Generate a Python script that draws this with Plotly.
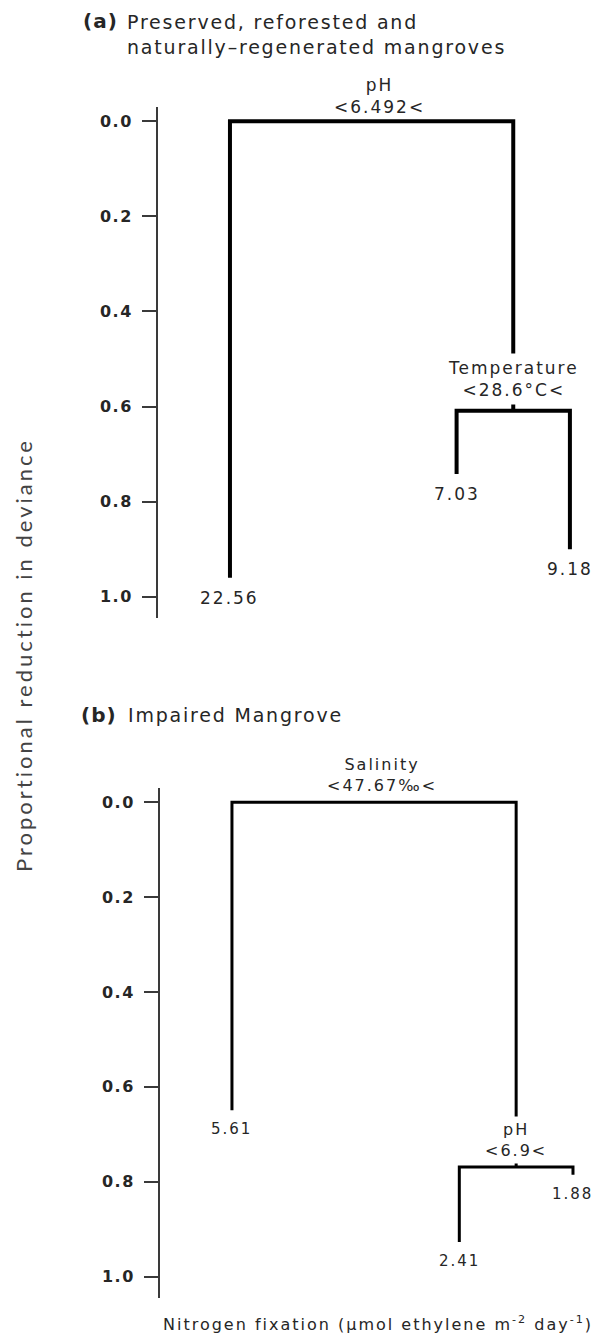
import plotly.graph_objects as go

W, H = 603, 1334

# ---------------- data ----------------
# Panel (a): preserved, reforested and naturally-regenerated mangroves
a_leaf_labels = ["22.56", "7.03", "9.18"]
a_leaf_pos = [0, 2, 3]
a_leaf_dev = [0.96, 0.742, 0.90]
a_split_var = ["pH", "Temperature"]
a_split_thr = ["<6.492<", "<28.6°C<"]
a_split_dev = [0.0, 0.609]

# Panel (b): impaired mangrove
b_leaf_labels = ["5.61", "2.41", "1.88"]
b_leaf_pos = [0, 2, 3]
b_leaf_dev = [0.649, 0.927, 0.785]
b_split_var = ["Salinity", "pH"]
b_split_thr = ["<47.67‰<", "<6.9<"]
b_split_dev = [0.0, 0.769]

y_tick_vals = [0.0, 0.2, 0.4, 0.6, 0.8, 1.0]
y_tick_text = ["0.0", "0.2", "0.4", "0.6", "0.8", "1.0"]

title_a = ["(a)", "Preserved, reforested and", "naturally–regenerated mangroves"]
title_b = ["(b)", "Impaired Mangrove"]
y_title = "Proportional reduction in deviance"
x_title = "Nitrogen fixation (μmol ethylene m<sup>-2</sup> day<sup>-1</sup>)"

FONT = "DejaVu Sans"
TXT = "#262626"


def esc(t):
    return t.replace("<", "&lt;").replace(">", "&gt;")


def sp(t, s):
    return f'<span style="letter-spacing:{s}px">{t}</span>'


def tree_path(leaf_pos, leaf_dev, split_dev):
    n1x = (leaf_pos[1] + leaf_pos[2]) / 2
    xs = [leaf_pos[0], leaf_pos[0], n1x, n1x, None,
          leaf_pos[1], leaf_pos[1], leaf_pos[2], leaf_pos[2]]
    ys = [leaf_dev[0], split_dev[0], split_dev[0], split_dev[1], None,
          leaf_dev[1], split_dev[1], split_dev[1], leaf_dev[2]]
    return xs, ys, n1x


fig = go.Figure()
annotations = []


def add_panel(idx, leaf_labels, leaf_pos, leaf_dev, split_var, split_thr, split_dev,
              lw, leaf_fs, split_fs, root_shift, inner_shift, inner_pad):
    xa = "x" if idx == 1 else "x2"
    ya = "y" if idx == 1 else "y2"
    xs, ys, n1x = tree_path(leaf_pos, leaf_dev, split_dev)
    fig.add_trace(go.Scatter(x=xs, y=ys, mode="lines", xaxis=xa, yaxis=ya,
                             line=dict(color="#000000", width=lw),
                             hoverinfo="skip", showlegend=False))
    # leaf labels
    for lab, px, dv in zip(leaf_labels, leaf_pos, leaf_dev):
        annotations.append(dict(x=px, y=dv, xref=xa, yref=ya, text=sp(lab, 2),
                                showarrow=False, yanchor="top", xanchor="center",
                                yshift=-8, font=dict(family=FONT, size=leaf_fs, color=TXT)))
    # root split label
    root_x = (leaf_pos[0] + n1x) / 2
    annotations.append(dict(x=root_x, y=split_dev[0], xref=xa, yref=ya,
                            text=sp(esc(split_var[0]), 2) + "<br>" + sp(esc(split_thr[0]), 2),
                            showarrow=False, yanchor="bottom", xanchor="center",
                            xshift=8, yshift=root_shift,
                            font=dict(family=FONT, size=split_fs, color=TXT)))
    # inner split label (white box hides part of the branch)
    annotations.append(dict(x=n1x, y=split_dev[1], xref=xa, yref=ya,
                            text=sp(esc(split_var[1]), 2) + "<br>" + sp(esc(split_thr[1]), 2),
                            showarrow=False, yanchor="bottom", xanchor="center",
                            yshift=inner_shift, bgcolor="white", borderpad=inner_pad,
                            font=dict(family=FONT, size=split_fs, color=TXT)))


add_panel(1, a_leaf_labels, a_leaf_pos, a_leaf_dev, a_split_var, a_split_thr, a_split_dev,
          4, 17, 17, 2, 6, 4)
add_panel(2, b_leaf_labels, b_leaf_pos, b_leaf_dev, b_split_var, b_split_thr, b_split_dev,
          3, 15, 16, 5, 3, 3)

# titles
annotations.append(dict(x=81 / W, y=1 - 21 / H, xref="paper", yref="paper",
                        text="<b>" + sp(title_a[0], 1) + "</b>", showarrow=False,
                        xanchor="left", yanchor="middle",
                        font=dict(family=FONT, size=20, color=TXT)))
annotations.append(dict(x=125 / W, y=1 - 9 / H, xref="paper", yref="paper",
                        text=sp(title_a[1], 1.8) + "<br>" + sp(title_a[2], 1.8),
                        showarrow=False, xanchor="left", yanchor="top", align="left",
                        font=dict(family=FONT, size=19, color=TXT)))
annotations.append(dict(x=79 / W, y=1 - 715 / H, xref="paper", yref="paper",
                        text="<b>" + sp(title_b[0], 1) + "</b>", showarrow=False,
                        xanchor="left", yanchor="middle",
                        font=dict(family=FONT, size=20, color=TXT)))
annotations.append(dict(x=126 / W, y=1 - 715 / H, xref="paper", yref="paper",
                        text=sp(title_b[1], 1.8), showarrow=False,
                        xanchor="left", yanchor="middle",
                        font=dict(family=FONT, size=19, color=TXT)))
annotations.append(dict(x=23 / W, y=1 - 655 / H, xref="paper", yref="paper",
                        text=sp(y_title, 3), showarrow=False, textangle=-90,
                        xanchor="center", yanchor="middle",
                        font=dict(family="Lato", size=22, color="#444444")))
annotations.append(dict(x=378 / W, y=1 - 1323 / H, xref="paper", yref="paper",
                        text=sp(x_title, 2), showarrow=False,
                        xanchor="center", yanchor="middle",
                        font=dict(family=FONT, size=16, color=TXT)))

yaxis_common = dict(
    range=[1.044, -0.03], tickmode="array", tickvals=y_tick_vals,
    ticktext=[sp(t, 1.5) for t in y_tick_text],
    showline=True, linecolor="#3a3a3a", linewidth=2,
    ticks="outside", ticklen=14, tickwidth=2, tickcolor="#3a3a3a",
    showgrid=False, zeroline=False, ticklabelstandoff=6,
    tickfont=dict(family=FONT, size=16, color=TXT, weight="bold"),
)
xaxis_common = dict(visible=False, showgrid=False, zeroline=False)

fig.update_layout(
    width=W, height=H, margin=dict(l=0, r=0, t=0, b=0),
    paper_bgcolor="white", plot_bgcolor="white",
    xaxis=dict(domain=[158 / W, 1], range=[-0.635, 3.292], **xaxis_common),
    yaxis=dict(domain=[1 - 617.6 / H, 1 - 107 / H], anchor="x", **yaxis_common),
    xaxis2=dict(domain=[160 / W, 1], range=[-0.633, 3.264], anchor="y2", **xaxis_common),
    yaxis2=dict(domain=[1 - 1297.6 / H, 1 - 787.9 / H], anchor="x2", **yaxis_common),
    annotations=annotations,
    showlegend=False,
)

fig.write_html("out.html")
